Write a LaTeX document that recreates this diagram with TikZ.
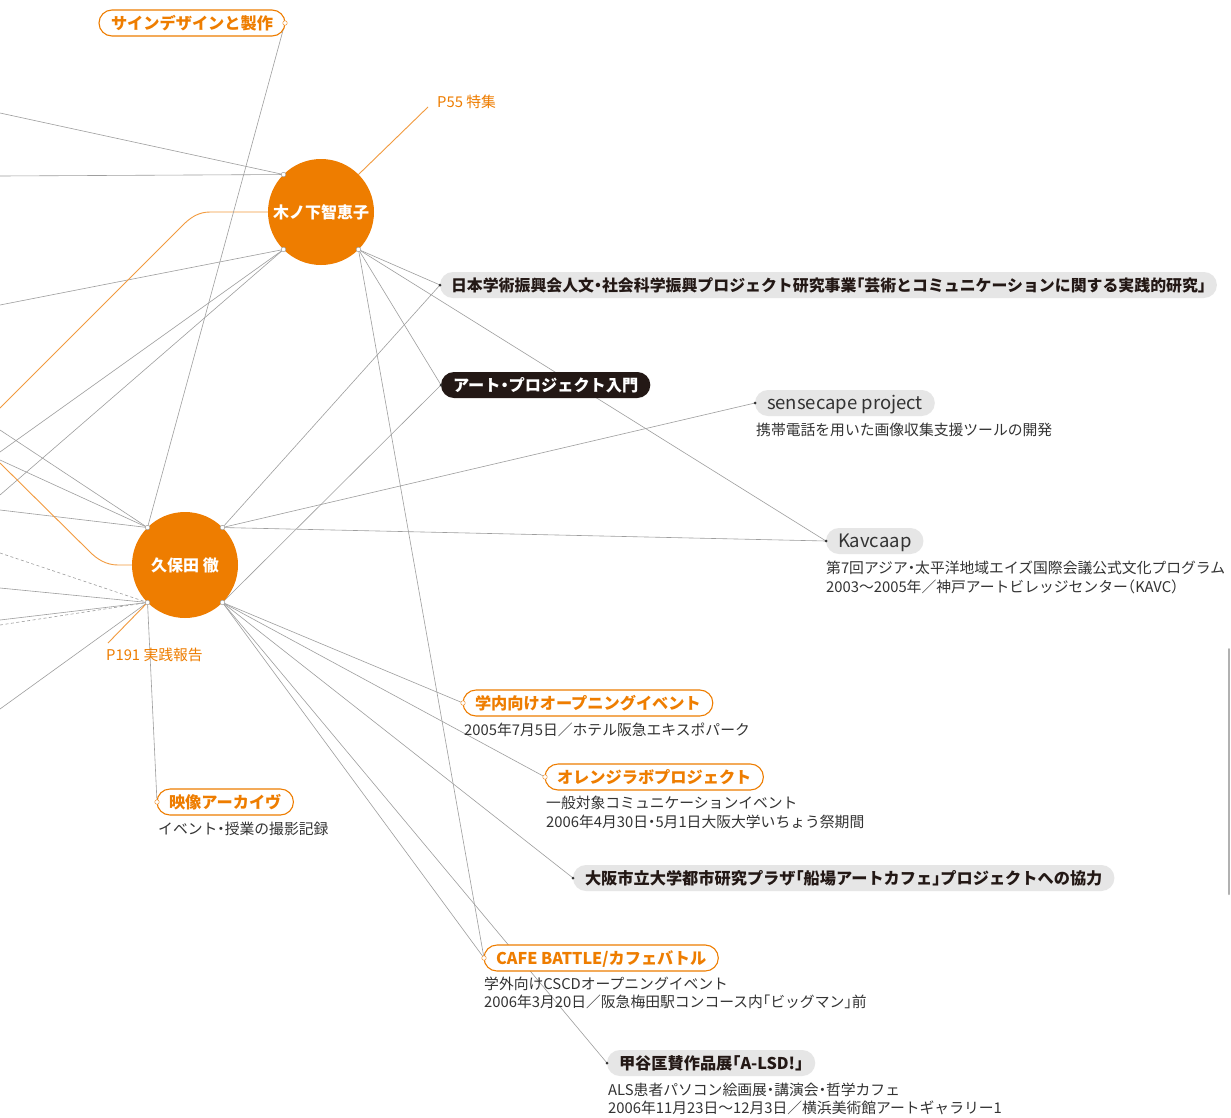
\documentclass[tikz,border=0pt]{standalone}
\usepackage{fontspec}
\setmainfont{Noto Sans CJK JP}
\usetikzlibrary{backgrounds}
\definecolor{brand}{HTML}{EE7D00}
\definecolor{brandline}{HTML}{F29A3E}
\definecolor{wirec}{HTML}{9E9E9E}
\definecolor{tagfill}{HTML}{E6E6E6}
\definecolor{ink}{HTML}{333333}
\definecolor{deep}{HTML}{231815}
% half-width punctuation
\newcommand{\hw}[1]{{\addfontfeature{RawFeature=+halt}#1}}

\begin{document}
\begin{tikzpicture}[x=1pt,y=-1pt,
  wire/.style={draw=wirec, line width=0.6pt},
  dwire/.style={wire, dash pattern=on 3pt off 2.5pt},
  oline/.style={draw=brandline, line width=0.9pt},
  person/.style={circle, fill=brand, minimum size=106pt, inner sep=0pt, outer sep=0pt,
    text=white, font=\fontsize{16}{16}\selectfont\bfseries, text height=12pt, text depth=0pt},
  tagbase/.style={rounded corners=13pt, minimum height=26pt, inner xsep=12pt, inner ysep=0pt,
    outer sep=0pt, text height=12pt, text depth=0pt, font=\fontsize{16.2}{16.2}\selectfont\bfseries},
  graytag/.style={tagbase, fill=tagfill, text=deep, anchor=west},
  plaintag/.style={tagbase, fill=tagfill, text=ink, anchor=west, font=\fontsize{18.5}{18.5}\selectfont},
  darktag/.style={tagbase, fill=deep, text=white, anchor=west},
  otag/.style={tagbase, fill=white, draw=brand, line width=1.1pt, text=brand, anchor=west},
  note/.style={anchor=west, inner sep=0pt, text=ink, font=\fontsize{14.8}{14.8}\selectfont,
    text height=11pt, text depth=0pt},
  onote/.style={note, text=brand},
  pin/.style={circle, fill=white, draw=brandline, line width=0.5pt, inner sep=0pt, minimum size=4.5pt},
  gpin/.style={circle, fill=white, draw=wirec, line width=0.5pt, inner sep=0pt, minimum size=4.5pt},
  tagdot/.style={circle, fill=ink, inner sep=0pt, minimum size=3pt},
]
\useasboundingbox (0,0) rectangle (1231,1117);

% ---------- people ----------
\node[person] (kino) at (321,212) {木ノ下智恵子};
\node[person] (kubo) at (185,565) {久保田 徹};

% ---------- project tags ----------
\node[otag, anchor=east] (sign) at (285,23) {サインデザインと製作};
\node[graytag, font=\fontsize{15.9}{15.9}\selectfont\bfseries, inner xsep=11pt] (jsps) at (440,285) {日本学術振興会人文\hw{・}社会科学振興プロジェクト研究事業\hw{「}芸術とコミュニケーションに関する実践的研究\hw{」}};
\node[darktag] (intro) at (441,385) {アート\hw{・}プロジェクト入門};
\node[plaintag] (sense) at (755,403) {sensecape project};
\node[plaintag] (kav) at (826,541) {Kavcaap};
\node[otag] (open) at (463,703) {学内向けオープニングイベント};
\node[otag] (olab) at (545,777) {オレンジラボプロジェクト};
\node[otag] (video) at (157,802) {映像アーカイヴ};
\node[graytag] (senba) at (573,878) {大阪市立大学都市研究プラザ\hw{「}船場アートカフェ\hw{」}プロジェクトへの協力};
\node[otag] (cafe) at (484,958) {CAFE BATTLE/カフェバトル};
\node[graytag] (alsd) at (607,1063) {甲谷匡賛作品展\hw{「}A-LSD!\hw{」}};

% ---------- notes ----------
\node[onote] (p55) at (437,102) {P55 特集};
\node[onote] (p191) at (106,655) {P191 実践報告};
\node[note] (senseA) at (756,430) {携帯電話を用いた画像収集支援ツールの開発};
\node[note] (kavA) at (826,568) {第7回アジア\hw{・}太平洋地域エイズ国際会議公式文化プログラム};
\node[note] (kavB) at (826,587) {2003〜2005年／神戸アートビレッジセンター\hw{（}KAVC\hw{）}};
\node[note] (openA) at (464,730) {2005年7月5日／ホテル阪急エキスポパーク};
\node[note] (olabA) at (546,803) {一般対象コミュニケーションイベント};
\node[note] (olabB) at (546,822) {2006年4月30日\hw{・}5月1日大阪大学いちょう祭期間};
\node[note] (videoA) at (158,829) {イベント\hw{・}授業の撮影記録};
\node[note] (cafeA) at (484,984) {学外向けCSCDオープニングイベント};
\node[note] (cafeB) at (484,1002) {2006年3月20日／阪急梅田駅コンコース内\hw{「}ビッグマン\hw{」}前};
\node[note] (alsdA) at (608,1090) {ALS患者パソコン絵画展\hw{・}講演会\hw{・}哲学カフェ};
\node[note] (alsdB) at (608,1108) {2006年11月23日〜12月3日／横浜美術館アートギャラリー1};

% ---------- loose ends at the page edge ----------
\coordinate (e1) at (0,113);
\coordinate (e2) at (0,176);
\coordinate (e3) at (0,305);
\coordinate (e4) at (0,452);
\coordinate (e5) at (0,495);
\coordinate (f1) at (0,430);
\coordinate (f2) at (0,460);
\coordinate (f3) at (0,510);
\coordinate (g1) at (0,553);
\coordinate (g2) at (0,588);
\coordinate (g3) at (0,620);
\coordinate (g4) at (0,625);
\coordinate (g5) at (0,709);
\coordinate (o1) at (0,408);
\coordinate (o2) at (0,463);
\coordinate (p55end) at (428,107);
\coordinate (p191end) at (108,643);
\coordinate (barTop) at (1229,649);
\coordinate (barBot) at (1229,894);

\begin{scope}[on background layer]
  \fill[white] (0,0) rectangle (1231,1117);
  % Kinoshita
  \draw[wire] (e1) -- (kino.135);
  \draw[wire] (e2) -- (kino.135);
  \draw[wire] (e3) -- (kino.-135);
  \draw[wire] (e4) -- (kino.-135);
  \draw[wire] (e5) -- (kino.-135);
  \draw[wire] (kino.-45) -- (jsps.west);
  \draw[wire] (kino.-45) -- (intro.west);
  \draw[wire] (kino.-45) -- (kav.west);
  \draw[wire] (kino.-45) -- (cafe.west);
  \draw[oline] (kino.45) -- (p55end);
  \draw[oline] (kino.west) -- (210,212) .. controls (198,212) and (190,218) .. (183,225) -- (o1);
  % Kubota
  \draw[wire] (sign.east) -- (kubo.135);
  \draw[wire] (f1) -- (kubo.135);
  \draw[wire] (f2) -- (kubo.135);
  \draw[wire] (f3) -- (kubo.135);
  \draw[dwire] (g1) -- (kubo.-135);
  \draw[wire] (g2) -- (kubo.-135);
  \draw[wire] (g3) -- (kubo.-135);
  \draw[dwire] (g4) -- (kubo.-135);
  \draw[wire] (g5) -- (kubo.-135);
  \draw[wire] (kubo.-135) -- (video.west);
  \draw[oline] (kubo.-135) -- (p191end);
  \draw[oline] (kubo.west) -- (118,565) .. controls (106,565) and (97,559) .. (90,552) -- (o2);
  \draw[wire] (kubo.45) -- (jsps.west);
  \draw[wire] (kubo.45) -- (sense.west);
  \draw[wire] (kubo.45) -- (kav.west);
  \draw[wire] (kubo.-45) -- (intro.west);
  \draw[wire] (kubo.-45) -- (open.west);
  \draw[wire] (kubo.-45) -- (olab.west);
  \draw[wire] (kubo.-45) -- (senba.west);
  \draw[wire] (kubo.-45) -- (cafe.west);
  \draw[wire] (kubo.-45) -- (alsd.west);
  % edge bar
  \draw[draw=wirec!80, line width=2pt, line cap=round] (barTop) -- (barBot);
\end{scope}

% ---------- connection pins ----------
\foreach \a in {kino.135, kino.-135, kino.-45, kubo.135, kubo.45, kubo.-135, kubo.-45}
  \node[gpin] at (\a) {};
\foreach \a in {sign.east, open.west, olab.west, video.west, cafe.west}
  \node[pin] at (\a) {};
\foreach \a in {jsps.west, intro.west, sense.west, kav.west, senba.west, alsd.west}
  \node[tagdot] at (\a) {};
\end{tikzpicture}
\end{document}
